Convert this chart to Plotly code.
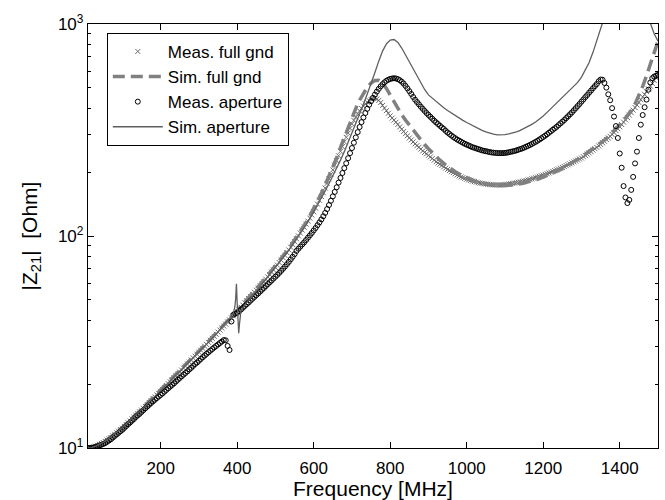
import numpy as np
import plotly.graph_objects as go

# ---------------- data ----------------
# measured sweep: 10 ... 1500 MHz, 5 MHz step
freq_meas = list(range(10, 1501, 5))

meas_full_gnd = [
    10.0, 10.0, 10.05, 10.1, 10.2, 10.3, 10.4, 10.5, 10.6, 10.75,
    10.9, 11.05, 11.2, 11.4, 11.6, 11.8, 12.0, 12.2, 12.4, 12.65,
    12.9, 13.15, 13.4, 13.7, 14.0, 14.3, 14.5, 14.8, 15.1, 15.4,
    15.7, 16.0, 16.4, 16.7, 17.1, 17.4, 17.8, 18.1, 18.5, 18.9,
    19.3, 19.7, 20.1, 20.5, 21.0, 21.4, 21.9, 22.3, 22.8, 23.3,
    23.8, 24.3, 24.9, 25.4, 26.0, 26.6, 27.1, 27.7, 28.3, 28.9,
    29.5, 30.2, 30.8, 31.5, 32.2, 32.9, 33.6, 34.4, 35.2, 36.0,
    36.8, 37.6, 38.4, 39.3, 40.2, 41.1, 42.0, 43.0, 44.0, 45.0,
    46.1, 47.2, 48.3, 49.5, 50.7, 51.9, 53.1, 54.3, 55.5, 56.8,
    58.2, 59.6, 61.0, 62.5, 64.1, 65.8, 67.5, 69.2, 71.0, 72.9,
    74.9, 76.9, 79.0, 81.0, 83.4, 85.9, 88.5, 91.2, 94.0, 97.0,
    100.1, 103.3, 106.6, 110.0, 113.7, 117.5, 121.4, 125.6, 130.0, 135.5,
    141.3, 147.3, 153.6, 160.0, 168.3, 177.0, 186.0, 195.3, 205.0, 216.0,
    227, 239, 251, 264, 278, 292, 306, 322, 338, 351,
    364, 377, 389, 400, 410, 420, 428, 435, 441, 445,
    446, 443, 436, 426, 413, 401, 390, 379, 369, 360,
    352, 344, 336, 327, 319, 311, 304, 297, 290, 284,
    278, 272, 267, 262, 257, 252, 248, 244, 240, 236,
    232, 228, 224, 221, 218, 215, 212, 209, 206, 203.5,
    201, 199, 196.5, 194, 192, 190, 188.5, 187, 185.5, 184,
    183, 181.5, 180.5, 179.5, 178.5, 177.7, 177, 176.4, 175.9, 175.4,
    175, 174.6, 174.3, 174.1, 174, 174, 174.1, 174.3, 174.8, 175.2,
    175.7, 176.3, 177, 177.7, 178.4, 179.2, 180, 180.9, 181.8, 182.8,
    183.8, 184.9, 186, 187.2, 188.4, 189.7, 191, 192.4, 193.8, 195.3,
    196.8, 198.4, 200, 201.7, 203.4, 205.2, 207, 208.9, 210.8, 212.8,
    214.8, 216.9, 219, 221.2, 223.5, 225.8, 228.2, 230.7, 233.3, 236.6,
    239.9, 243.2, 246.6, 250.0, 254.1, 258.2, 261.8, 266.1, 270.4, 275.4,
    279.9, 285.1, 289.7, 295.1, 301.3, 307.6, 314.1, 320.6, 327.3, 335.7,
    344.4, 353.2, 362.2, 371.5, 381.9, 392.6, 403.6, 415.0, 426.6, 439.5,
    452.9, 465.6, 479.8, 494.3, 509.3, 524.8, 542.0, 558.5, 575.4,
]

meas_aperture = [
    10.0, 10.0, 10.03, 10.07, 10.12, 10.2, 10.28, 10.36, 10.45, 10.55,
    10.7, 10.85, 11.0, 11.2, 11.4, 11.6, 11.8, 12.0, 12.2, 12.45,
    12.7, 12.95, 13.2, 13.45, 13.7, 14.0, 14.25, 14.5, 14.8, 15.1,
    15.4, 15.7, 16.0, 16.3, 16.6, 16.9, 17.2, 17.5, 17.8, 18.1,
    18.45, 18.8, 19.15, 19.5, 19.85, 20.2, 20.6, 21.0, 21.4, 21.8,
    22.2, 22.6, 23.0, 23.5, 23.9, 24.4, 24.9, 25.3, 25.8, 26.3,
    26.8, 27.3, 27.8, 28.3, 28.8, 29.3, 29.8, 30.3, 30.8, 31.3,
    31.8, 32.3, 32.2, 30.3, 29.0, 39.5, 42.5, 43.0, 43.4, 44.2,
    45.0, 45.9, 46.8, 47.7, 48.6, 49.6, 50.6, 51.6, 52.6, 53.6,
    54.7, 55.8, 56.9, 58.1, 59.3, 60.5, 61.7, 63.0, 64.3, 65.6,
    67.0, 68.5, 70.1, 71.8, 73.6, 75.5, 77.6, 79.8, 82.1, 85.0,
    87.1, 89.1, 91.2, 93.3, 95.7, 98.2, 100.7, 103.3, 106.2, 109.1,
    112.5, 115.9, 119.7, 123.9, 128.5, 134.0, 140.0, 146.6, 153.8, 161.4,
    169.8, 178.6, 187.9, 198.2, 208.9, 220.3, 232.8, 246.0, 260.0, 275.4,
    291.7, 309.0, 326.6, 344.4, 362.2, 380.2, 398.1, 415.9, 432.5, 448.7,
    464.5, 479.7, 494.3, 508.2, 520.0, 530.9, 539.5, 545.8, 550.8, 553.4,
    554.6, 553.4, 549.5, 543.3, 534.6, 523.6, 510.5, 496.6, 482.0, 467.7,
    452.9, 439.5, 428.5, 417.8, 407.4, 398.1, 389.0, 380.2, 372.4, 364.8,
    357.3, 349.9, 343.6, 337.3, 331.1, 325.1, 319.9, 313.3, 307.6, 302.7,
    297.9, 293.1, 289.1, 285.1, 281.8, 278.6, 275.4, 272.3, 269.8, 267.3,
    264.9, 262.4, 260.6, 258.8, 257.0, 255.3, 253.5, 252.3, 251.2, 250.0,
    248.9, 247.7, 247.2, 246.6, 246.0, 246.0, 246.0, 246.0, 246.6, 247.2,
    248.3, 249.5, 250.6, 251.8, 253.5, 255.3, 257.0, 258.8, 261.2, 263.6,
    266.1, 268.5, 271.6, 274.8, 278.0, 281.2, 285.1, 289.1, 293.1, 297.2,
    302.0, 306.9, 311.9, 317.0, 322.1, 327.3, 333.4, 339.6, 345.9, 352.4,
    359.7, 367.3, 375.0, 382.8, 391.7, 400.9, 410.2, 419.8, 430.5, 440.6,
    451.9, 462.4, 474.2, 485.3, 497.7, 509.3, 521.2, 537.0, 547.0, 546.0,
    527, 501, 466, 437, 401, 366, 330, 290, 245, 210,
    172, 152, 143, 148, 165, 190, 220, 250, 290, 335,
    372, 405, 440, 490, 530, 555, 565, 570, 575,
]

# simulation, full ground plane: 10 ... 1500 MHz, 10 MHz step
freq_sim_full = list(range(10, 1501, 10))
sim_full_gnd = [
    10.0, 10.05, 10.2, 10.4, 10.65, 10.95, 11.3, 11.7, 12.1, 12.5,
    13.0, 13.5, 14.1, 14.7, 15.3, 15.9, 16.6, 17.3, 18.0, 18.8,
    19.6, 20.4, 21.3, 22.2, 23.1, 24.1, 25.2, 26.3, 27.4, 28.6,
    29.9, 31.2, 32.6, 34.0, 35.5, 37.1, 38.8, 40.6, 42.5, 44.5,
    46.6, 48.8, 51.2, 53.7, 56.3, 59.1, 62.1, 65.3, 68.7, 72.3,
    76.2, 80.4, 85.0, 90.0, 95.5, 101.5, 108.2, 115.8, 124.5, 134.5,
    146, 159, 174, 191, 211, 234, 261, 292, 326, 362,
    400, 437, 472, 503, 527, 541, 542, 527, 497, 462,
    428, 398, 373, 352, 333, 315, 298, 283, 270, 258,
    247, 237, 228, 220, 213, 207, 201, 196, 192, 188,
    185, 182, 179.5, 177.5, 176, 174.8, 173.8, 173.2, 173, 173,
    173.4, 174, 175, 176.3, 177.8, 179.6, 181.7, 184, 186.6, 189.5,
    192.7, 196.2, 200, 204, 208.5, 213.3, 218.5, 224, 230, 236.5,
    243.5, 251, 259, 266, 273, 283, 294, 306, 320, 335,
    350, 368, 390, 420, 460, 508, 570, 648, 735, 830,
]

# simulation, aperture in ground plane
freq_sim_ap = (list(range(10, 390, 10))
               + [390, 394, 396, 398, 400, 402, 404, 406, 408]
               + list(range(410, 1501, 10)))
sim_aperture = [
    10.0, 10.05, 10.2, 10.4, 10.65, 10.95, 11.3, 11.7, 12.1, 12.5,
    13.0, 13.5, 14.05, 14.6, 15.2, 15.8, 16.5, 17.2, 17.9, 18.6,
    19.4, 20.2, 21.1, 22.0, 22.9, 23.9, 24.9, 26.0, 27.1, 28.3,
    29.5, 30.8, 32.2, 33.7, 35.3, 37.0, 38.9, 41.0,
    43.3, 46.5, 50.5, 59.5, 48.0, 38.5, 34.8, 38.5, 42.5,
    44.5, 47.3, 49.9, 52.5, 55.2, 58.0, 61.0, 64.2, 67.6, 71.2,
    75.0, 79.1, 83.6, 88.5, 93.8, 99.6, 106.0, 113.0, 121.0, 130.0,
    140, 151, 163, 177, 192, 209, 228, 250, 276, 305,
    338, 375, 418, 468, 522, 590, 668, 745, 805, 840,
    845, 818, 770, 714, 657, 606, 562, 524, 491, 463,
    446, 430, 416, 403, 391, 380, 370, 360, 351, 343,
    335, 328, 321, 315, 310, 305, 302, 300, 300, 301,
    303, 306, 310, 315, 321, 328, 336, 345, 356, 368,
    383, 399, 416, 434, 452, 470, 489, 509, 530, 562,
    605, 658, 735, 835, 945, 1080, 1300, 1600, 2000, 2600,
    3400, 4200, 3800, 2900, 2100, 1550, 1200, 1010, 900, 830,
]

assert len(freq_meas) == len(meas_full_gnd) == len(meas_aperture)
assert len(freq_sim_full) == len(sim_full_gnd)
assert len(freq_sim_ap) == len(sim_aperture)

x_ticks = [200, 400, 600, 800, 1000, 1200, 1400]
y_ticks = [10, 100, 1000]
y_ticktext = ["10<sup>1</sup>", "10<sup>2</sup>", "10<sup>3</sup>"]
y_minor = [20, 30, 40, 50, 60, 70, 80, 90, 200, 300, 400, 500, 600, 700, 800, 900]

# ---------------- figure ----------------
FONT = "Liberation Sans, Arial, Helvetica, sans-serif"
fig = go.Figure()

fig.add_trace(go.Scatter(
    x=freq_meas, y=meas_full_gnd, mode="markers", name="Meas. full gnd",
    marker=dict(symbol="x-thin", size=5, color="rgb(105,105,105)",
                line=dict(width=1, color="rgb(105,105,105)")),
))
fig.add_trace(go.Scatter(
    x=freq_sim_full, y=sim_full_gnd, mode="lines", name="Sim. full gnd",
    line=dict(color="rgb(128,128,128)", width=3.5, dash="12px,6px"),
))
fig.add_trace(go.Scatter(
    x=freq_meas, y=meas_aperture, mode="markers", name="Meas. aperture",
    marker=dict(symbol="circle-open", size=5, color="black",
                line=dict(width=1, color="black")),
))
fig.add_trace(go.Scatter(
    x=freq_sim_ap, y=sim_aperture, mode="lines", name="Sim. aperture",
    line=dict(color="rgb(95,95,95)", width=1.3),
))

axis_common = dict(
    showline=True, linecolor="black", linewidth=1.3, mirror="allticks",
    ticks="inside", tickcolor="black", ticklen=6, tickwidth=1,
    showgrid=False, zeroline=False,
    tickfont=dict(family=FONT, size=17, color="black"),
)

fig.update_xaxes(
    range=[10, 1500], tickvals=x_ticks, ticklabelstandoff=4,
    title=dict(text="Frequency [MHz]", font=dict(family=FONT, size=21, color="black"),
               standoff=4),
    **axis_common,
)
fig.update_yaxes(
    type="log", range=[1, 3], tickvals=y_ticks, ticktext=y_ticktext,
    minor=dict(ticks="inside", ticklen=3, tickcolor="black", tickvals=y_minor),
    title=dict(text="|Z<sub>21</sub>|  [Ohm]", font=dict(family=FONT, size=21, color="black"),
               standoff=14),
    **axis_common,
)

fig.update_layout(
    width=665, height=500,
    margin=dict(l=88, r=7, t=24, b=52, autoexpand=False),
    paper_bgcolor="white", plot_bgcolor="white",
    font=dict(family=FONT, color="black"),
    showlegend=True,
    legend=dict(
        x=0.033, y=0.979, xanchor="left", yanchor="top",
        bgcolor="white", bordercolor="black", borderwidth=1,
        font=dict(family=FONT, size=17, color="black"),
        itemwidth=50, tracegroupgap=0,
    ),
)

fig.write_html(
    "out.html",
    config={"displayModeBar": False},
    post_script="document.body.style.margin='0px';document.body.style.padding='0px';",
)
